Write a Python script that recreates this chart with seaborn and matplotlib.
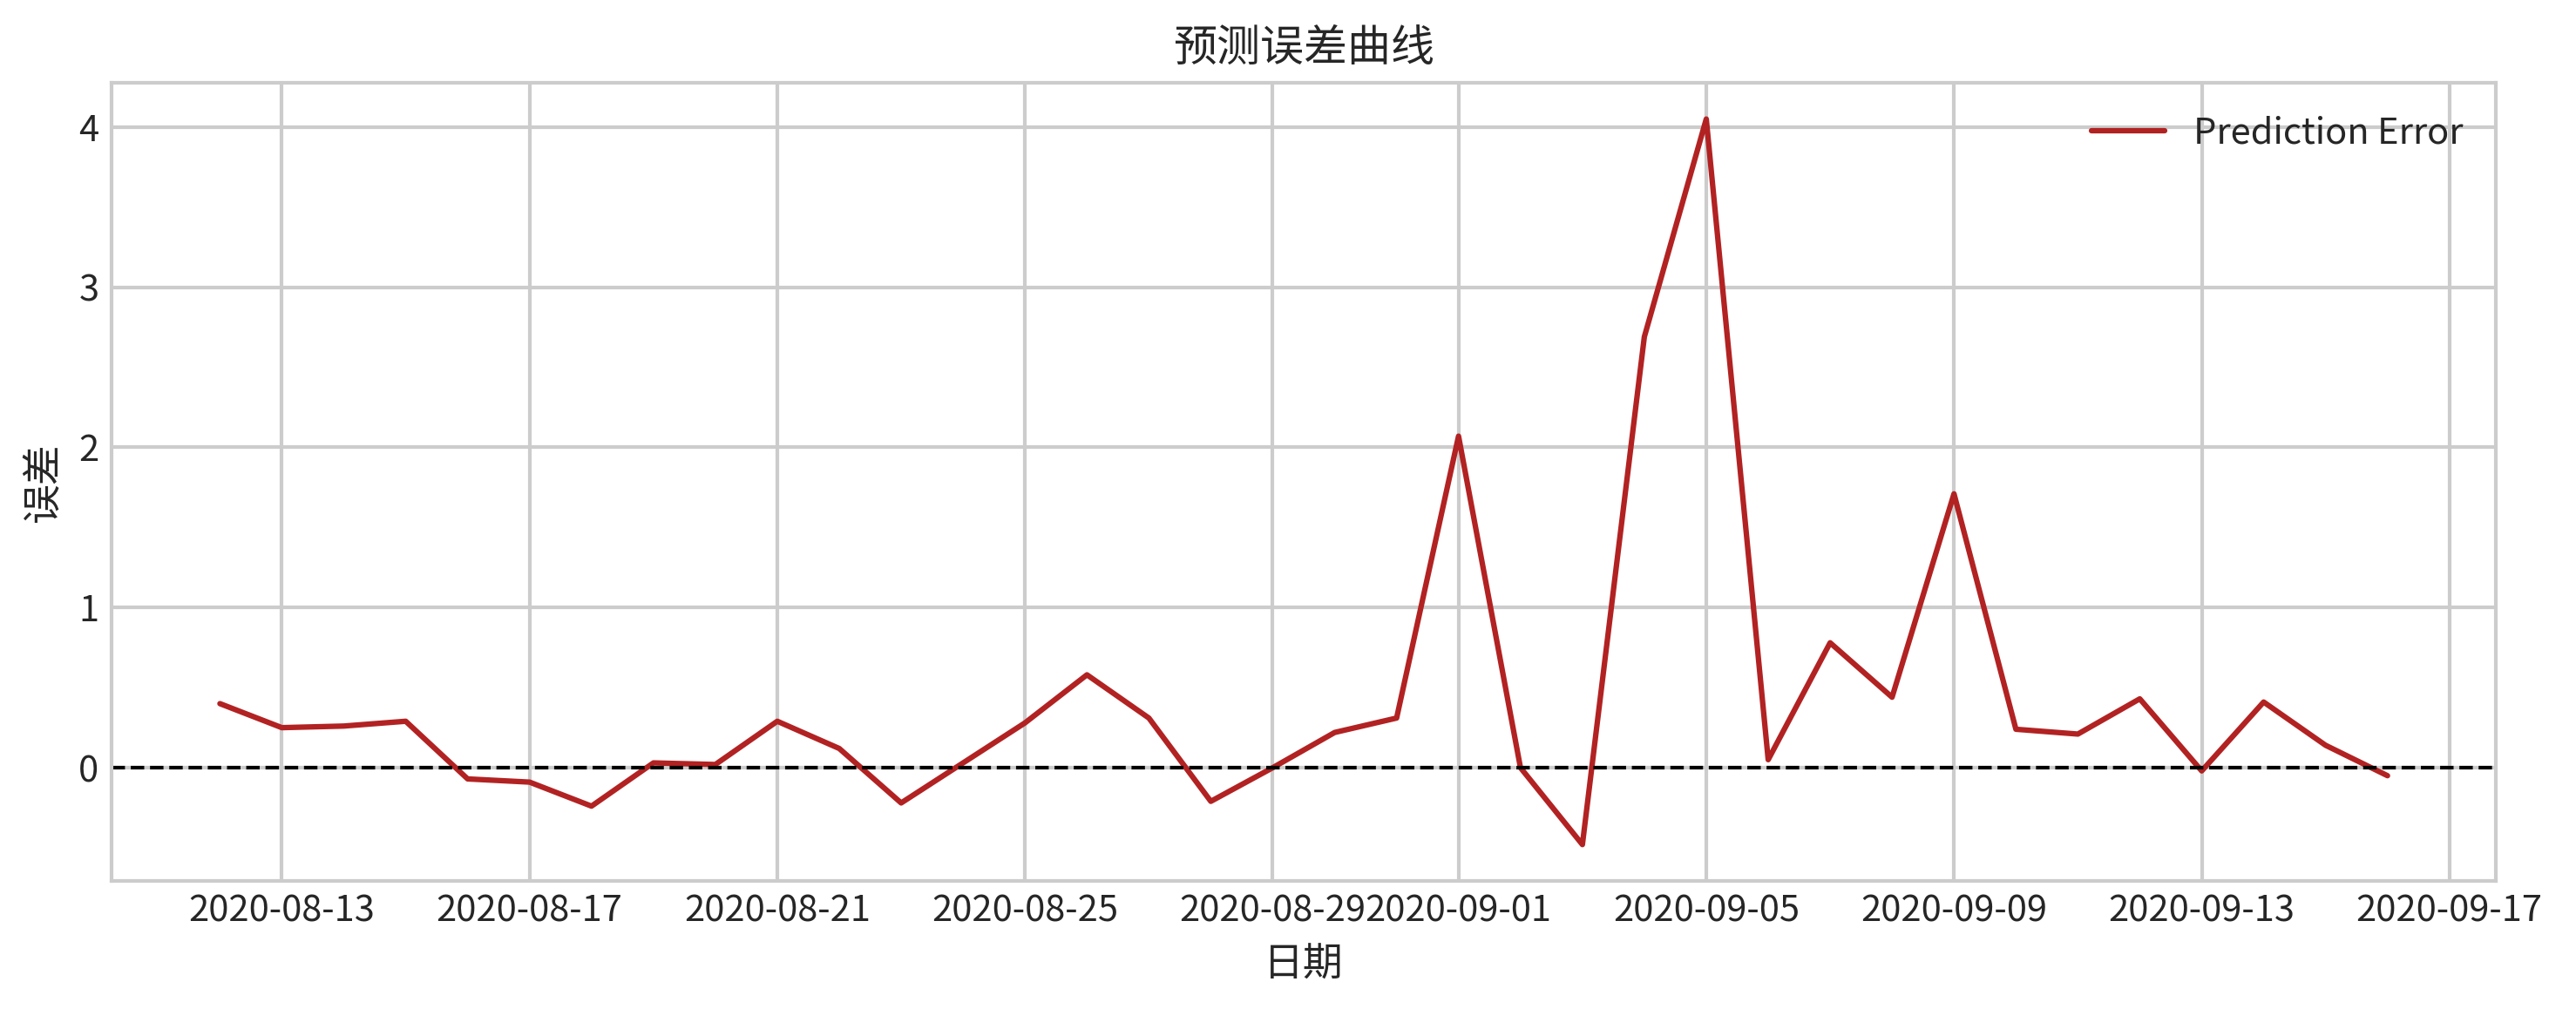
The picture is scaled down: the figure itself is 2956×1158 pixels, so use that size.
#!/usr/bin/env python3
# coding: utf-8
"""预测误差曲线：逐日预测误差折线图"""

import numpy as np
import pandas as pd
import seaborn as sns
import matplotlib
matplotlib.use("Agg")
import matplotlib.pyplot as plt

# ------------------------- 0. 数据 -------------------------------
START_DATE = "2020-08-12"
ERRORS = [
    0.40, 0.25, 0.26, 0.29, -0.07, -0.09, -0.24, 0.03, 0.02, 0.29,
    0.12, -0.22, 0.03, 0.28, 0.58, 0.31, -0.21, 0.00, 0.22, 0.31,
    2.07, 0.00, -0.48, 2.69, 4.05, 0.05, 0.78, 0.44, 1.71, 0.24,
    0.21, 0.43, -0.02, 0.41, 0.14, -0.05,
]
SERIES_NAME = "Prediction Error"
TITLE = "预测误差曲线"
XLABEL = "日期"
YLABEL = "误差"

# ------------------------- 1. 样式 -------------------------------
sns.set_theme(style="whitegrid")
plt.rcParams["font.family"] = ["Noto Sans CJK SC", "DejaVu Sans"]
plt.rcParams["axes.unicode_minus"] = False
plt.rcParams["axes.edgecolor"] = "#cccccc"
plt.rcParams["grid.color"] = "#cccccc"

# ------------------------- 2. 绘图 -------------------------------
dates = pd.date_range(START_DATE, periods=len(ERRORS), freq="D")
df = pd.DataFrame({"date": dates, "error": ERRORS})

fig, ax = plt.subplots(figsize=(2956 / 300, 1158 / 300), dpi=300)
fig.subplots_adjust(left=0.0433, right=0.9689, top=0.918, bottom=0.127)

sns.lineplot(data=df, x="date", y="error", color="firebrick", lw=1.5,
             label=SERIES_NAME, ax=ax)
ax.axhline(0, color="black", linestyle="--", lw=1)

ax.set_title(TITLE, fontsize=12, color="#262626")
ax.set_xlabel(XLABEL, fontsize=11, color="#262626")
ax.set_ylabel(YLABEL, fontsize=11, color="#262626")
ax.tick_params(axis="both", labelsize=10, colors="#262626", length=0)
for s in ax.spines.values():
    s.set_color("#cccccc")
    s.set_linewidth(1.0)

ax.legend(loc="upper right", frameon=False, fontsize=10)

fig.savefig("out.png", dpi=300)
